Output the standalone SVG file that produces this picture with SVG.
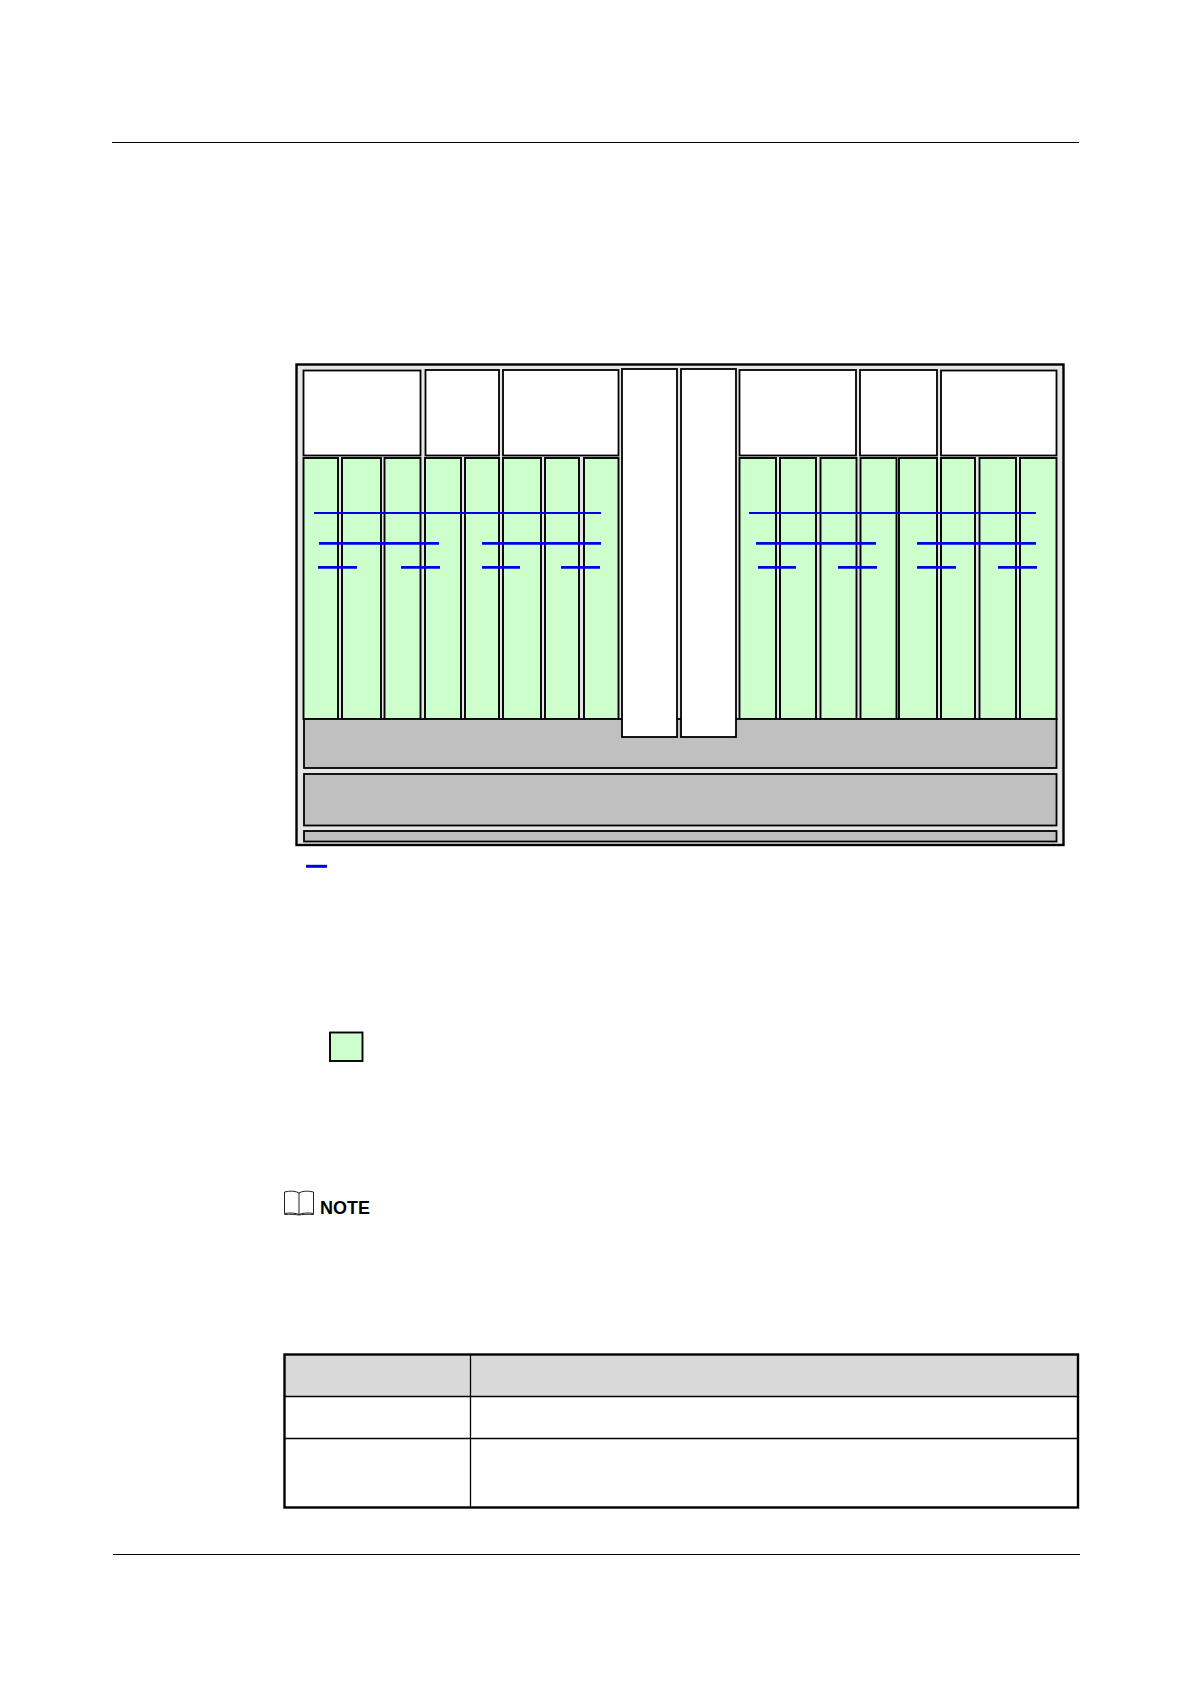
<svg xmlns="http://www.w3.org/2000/svg" width="1191" height="1684" viewBox="0 0 1191 1684">
<style>
.w{fill:#fff;stroke:#000;stroke-width:1.8}
.g{fill:#ccffcc;stroke:#000;stroke-width:1.9}
.s{fill:#c0c0c0;stroke:#000;stroke-width:1.8}
.b{stroke:#0000e0;stroke-width:2.8;fill:none}
.k{stroke:#000;fill:none}
</style>
<rect width="1191" height="1684" fill="#fff"/>
<line class="k" x1="112" y1="142.5" x2="1079" y2="142.5" stroke-width="1"/>
<line class="k" x1="113" y1="1554.5" x2="1080" y2="1554.5" stroke-width="1"/>
<g id="chassis"><rect x="296.500" y="364.500" width="767" height="480.500" fill="#e6e6e6" stroke="#000" stroke-width="2.400"/></g>
<g id="top-boxes">
<rect id="box1" class="w" x="303.500" y="370.500" width="117" height="85"/>
<rect id="box2" class="w" x="425.500" y="370" width="73.500" height="85.500"/>
<rect id="box3" class="w" x="503" y="370" width="115.500" height="85.500"/>
<rect id="box4" class="w" x="739.500" y="370" width="116.500" height="85.500"/>
<rect id="box5" class="w" x="860" y="370" width="77" height="85.500"/>
<rect id="box6" class="w" x="941" y="370.500" width="115.500" height="85"/>
</g>
<g id="slots-left">
<rect class="g" x="303.500" y="458" width="34.500" height="261"/>
<rect class="g" x="342" y="458" width="39" height="261"/>
<rect class="g" x="384.500" y="458" width="36" height="261"/>
<rect class="g" x="425" y="458" width="36" height="261"/>
<rect class="g" x="465" y="458" width="34" height="261"/>
<rect class="g" x="503" y="458" width="38" height="261"/>
<rect class="g" x="545" y="458" width="34" height="261"/>
<rect class="g" x="584" y="458" width="34.500" height="261"/>
</g>
<g id="slots-right">
<rect class="g" x="739.500" y="458" width="36.500" height="261"/>
<rect class="g" x="780" y="458" width="36" height="261"/>
<rect class="g" x="820.500" y="458" width="36" height="261"/>
<rect class="g" x="860.500" y="458" width="36" height="261"/>
<rect class="g" x="899" y="458" width="38" height="261"/>
<rect class="g" x="941" y="458" width="34" height="261"/>
<rect class="g" x="979.500" y="458" width="36.500" height="261"/>
<rect class="g" x="1020" y="458" width="36.500" height="261"/>
</g>
<g id="backplanes">
<rect class="s" x="304" y="719" width="752.500" height="49"/>
<rect class="s" x="304" y="774" width="752.500" height="51.500"/>
<rect class="s" x="304" y="831" width="752.500" height="10.500"/>
</g>
<g id="tall-boxes">
<rect id="tall1" class="w" x="622" y="369" width="55" height="368"/>
<rect id="tall2" class="w" x="681" y="369" width="55" height="368"/>
</g>
<g id="connectors">
<line class="b" x1="314" y1="513" x2="601" y2="513" style="stroke-width:2"/>
<line class="b" x1="319" y1="543.300" x2="439" y2="543.300"/>
<line class="b" x1="482" y1="543.300" x2="601" y2="543.300"/>
<line class="b" x1="318" y1="567.300" x2="357" y2="567.300"/>
<line class="b" x1="401" y1="567.300" x2="440" y2="567.300"/>
<line class="b" x1="482" y1="567.300" x2="520" y2="567.300"/>
<line class="b" x1="561" y1="567.300" x2="600" y2="567.300"/>
<line class="b" x1="749" y1="513" x2="1036" y2="513" style="stroke-width:2"/>
<line class="b" x1="756" y1="543.300" x2="876" y2="543.300"/>
<line class="b" x1="917" y1="543.300" x2="1036" y2="543.300"/>
<line class="b" x1="758" y1="567.300" x2="796" y2="567.300"/>
<line class="b" x1="838" y1="567.300" x2="877" y2="567.300"/>
<line class="b" x1="917" y1="567.300" x2="956" y2="567.300"/>
<line class="b" x1="998" y1="567.300" x2="1037" y2="567.300"/>
<line class="b" x1="306" y1="866.300" x2="327" y2="866.300" style="stroke-width:3"/>
</g>
<g id="legend"><rect class="g" x="330" y="1032.500" width="32.500" height="28.500"/></g>
<g id="note">
<path d="M284.500 1192C290 1190.500 296 1191 299 1193C302 1191 308 1190.500 313.500 1192V1213.500C308 1212.500 302 1213 299 1214.500C296 1213 290 1212.500 284.500 1213.500ZM299 1193V1214.500M284.500 1213.500V1214.500C290 1214 296 1214.500 299 1215C302 1214.500 308 1214 313.500 1214.500V1213.500" fill="none" stroke="#222" stroke-width="1"/>
<text x="320" y="1214" font-family="'Liberation Sans',Arial,sans-serif" font-size="18" font-weight="700" fill="#000">NOTE</text>
</g>
<g id="table">
<rect x="285" y="1355" width="793" height="41.500" fill="#d9d9d9"/>
<line class="k" x1="284" y1="1396.500" x2="1078" y2="1396.500" stroke-width="1.300"/>
<line class="k" x1="284" y1="1438.500" x2="1078" y2="1438.500" stroke-width="1.300"/>
<line class="k" x1="470.500" y1="1354" x2="470.500" y2="1508" stroke-width="1.300"/>
<rect class="k" x="284.500" y="1354.500" width="793.500" height="153" stroke-width="2.400"/>
</g>
</svg>
